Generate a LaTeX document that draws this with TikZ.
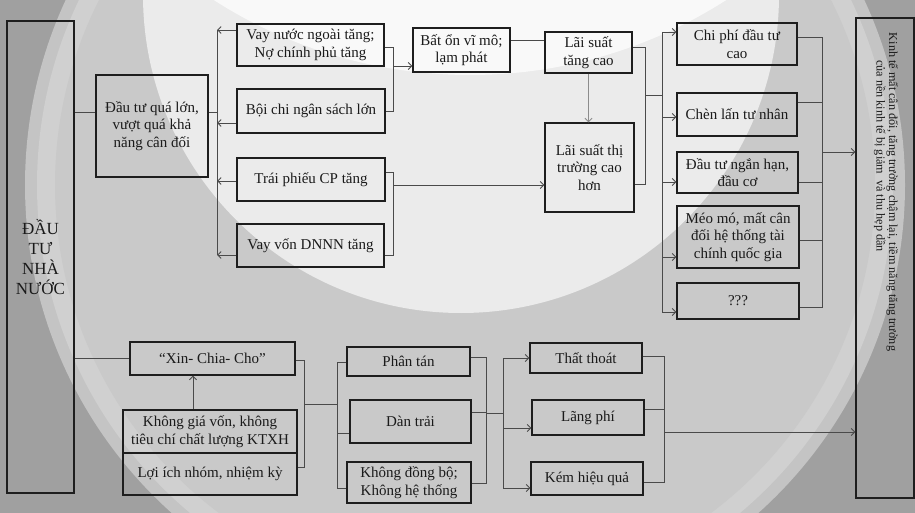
\documentclass[tikz,border=0pt]{standalone}
\usepackage{fontspec}
\setmainfont{Liberation Serif}
\usetikzlibrary{arrows.meta}
\definecolor{bgout}{HTML}{A0A0A0}
\definecolor{bgA}{HTML}{C4C4C4}
\definecolor{bgB}{HTML}{D0D0D0}
\definecolor{bgC}{HTML}{C9C9C9}
\definecolor{bgD}{HTML}{EBEBEB}
\definecolor{bgE}{HTML}{F9F9F9}
\definecolor{boxc}{HTML}{1E1E1E}
\definecolor{lnc}{HTML}{4A4A4A}
\definecolor{txt}{HTML}{1A1A1A}
\definecolor{lightarr}{HTML}{8C8C8C}
\begin{document}
\begin{tikzpicture}[x=1pt,y=-1pt,
  box/.style 2 args={draw=boxc, line width=1.4pt, inner sep=0pt, align=center,
    font=\fontsize{15}{17.5}\selectfont, text=txt, minimum width=#1pt, minimum height=#2pt},
  ln/.style={draw=lnc, line width=0.9pt},
  arr/.style={ln, -{Straight Barb[length=3.5pt,width=7pt]}},
]
\useasboundingbox (0,0) rectangle (915,513);
% background
\begin{scope}
\clip (0,0) rectangle (915,513);
\fill[bgout] (0,0) rectangle (915,513);
\fill[bgA] (465,185) circle[radius=440pt];
\fill[bgB] (465,185) circle[radius=428pt];
\fill[bgC] (465,185) circle[radius=410pt];
\fill[bgD] (461,-5) circle[radius=318pt];
\fill[bgE] (470,-400) circle[radius=475pt];
\end{scope}

% left big box
\node[box={67}{472}, font=\fontsize{17}{20}\selectfont] (L) at (40.5,257) {ĐẦU\\TƯ\\NHÀ\\NƯỚC};
% top section
\node[box={112}{102}] (A) at (152,126) {Đầu tư quá lớn,\\vượt quá khả\\năng cân đối};
\node[box={147}{42}] (B1) at (310.5,45) {Vay nước ngoài tăng;\\Nợ chính phủ tăng};
\node[box={148}{44}] (B2) at (311,111) {Bội chi ngân sách lớn};
\node[box={148}{43}] (B3) at (311,179.5) {Trái phiếu CP tăng};
\node[box={147}{43}] (B4) at (310.5,245.5) {Vay vốn DNNN tăng};
\node[box={97}{44}] (C) at (461.5,50) {Bất ổn vĩ mô;\\lạm phát};
\node[box={87}{41}] (D) at (588.5,52.5) {Lãi suất\\tăng cao};
\node[box={89}{89}] (E) at (589.5,167.5) {Lãi suất thị\\trường cao\\hơn};
\node[box={120}{42}] (F1) at (737,44) {Chi phí đầu tư\\cao};
\node[box={120}{43}] (F2) at (737,114.5) {Chèn lấn tư nhân};
\node[box={121}{41}] (F3) at (737.5,172.5) {Đầu tư ngắn hạn,\\đầu cơ};
\node[box={122}{62}] (F4) at (738,237) {Méo mó, mất cân\\đối hệ thống tài\\chính quốc gia};
\node[box={122}{36}] (F5) at (738,301) {???};
% right box
\node[box={58}{480}] (R) at (885,258) {};
\node[rotate=-90, align=center, font=\fontsize{12.2}{12.5}\selectfont, text=txt, inner sep=0pt] (Rt) at (886,192)
  {Kinh tế mất cân đối, tăng trưởng chậm lại, tiềm năng tăng trưởng\\của nền kinh tế bị giảm\ \ và thu hẹp dần\hspace*{72pt}};
% bottom section
\node[box={165}{33}] (X) at (212.5,358.5) {“Xin- Chia- Cho”};
\node[box={174}{43}] (Y1) at (210,431.5) {Không giá vốn, không\\tiêu chí chất lượng KTXH};
\node[box={174}{42}] (Y2) at (210,474) {Lợi ích nhóm, nhiệm kỳ};
\node[box={123}{29}] (P1) at (408.5,361.5) {Phân tán};
\node[box={121}{43}] (P2) at (410.5,421.5) {Dàn trải};
\node[box={124}{41}] (P3) at (409,482.5) {Không đồng bộ;\\Không hệ thống};
\node[box={112}{30}] (Q1) at (586,358) {Thất thoát};
\node[box={112}{35}] (Q2) at (588,417.5) {Lãng phí};
\node[box={112}{33}] (Q3) at (587,478.5) {Kém hiệu quả};

% junction coordinates
\coordinate (busB) at (217,112);
\coordinate (brB) at (393,66);
\coordinate (brT) at (393,185);
\coordinate (brD) at (645,95);
\coordinate (busF) at (662,95);
\coordinate (brF) at (822,152);
\coordinate (brX) at (304,404);
\coordinate (busP) at (337,404);
\coordinate (brP) at (486,413);
\coordinate (busQ) at (503,413);
\coordinate (brQ) at (664,432);

% top connectors
\draw[ln] (L.east |- 0,112) -- (A.west |- 0,112);
\draw[ln] (A.east |- busB) -- (busB);
\draw[ln] (busB |- 0,30) -- (busB |- 0,255);
\draw[arr] (B1.west |- 0,30) -- (busB |- 0,30);
\draw[arr] (B2.west |- 0,123) -- (busB |- 0,123);
\draw[arr] (B3.west |- 0,181) -- (busB |- 0,181);
\draw[arr] (B4.west |- 0,255) -- (busB |- 0,255);
\draw[ln] (B1.east |- 0,47) -| (brB |- 0,111) -- (B2.east |- 0,111);
\draw[arr] (brB) -- (C.west |- brB);
\draw[ln] (B3.east |- 0,172) -| (brT |- 0,255) -- (B4.east |- 0,255);
\draw[arr] (brT) -- (E.west |- brT);
\draw[ln] (C.east |- 0,40) -- (D.west |- 0,40);
\draw[draw=lightarr, line width=0.9pt, -{Straight Barb[length=3.5pt,width=7pt]}] (D.south) -- (D.south |- E.north);
\draw[ln] (D.east |- 0,47) -| (brD |- 0,184) -- (E.east |- 0,184);
\draw[ln] (brD) -- (busF);
\draw[ln] (busF |- 0,32) -- (busF |- 0,312);
\draw[arr] (busF |- 0,32) -- (F1.west |- 0,32);
\draw[arr] (busF |- 0,117) -- (F2.west |- 0,117);
\draw[arr] (busF |- 0,182) -- (F3.west |- 0,182);
\draw[arr] (busF |- 0,257) -- (F4.west |- 0,257);
\draw[arr] (busF |- 0,312) -- (F5.west |- 0,312);
\draw[ln] (F1.east |- 0,37) -| (brF |- 0,307) -- (F5.east |- 0,307);
\draw[ln] (F2.east |- 0,102) -- (brF |- 0,102);
\draw[ln] (F3.east |- 0,182) -- (brF |- 0,182);
\draw[ln] (F4.east |- 0,240) -- (brF |- 0,240);
\draw[arr] (brF) -- (R.west |- brF);

% bottom connectors
\draw[ln] (L.east |- 0,358) -- (X.west |- 0,358);
\draw[arr] (Y1.north -| 193,0) -- (X.south -| 193,0);
\draw[ln] (X.east |- 0,360) -| (brX |- 0,467) -- (Y2.east |- 0,467);
\draw[ln] (brX) -- (busP);
\draw[ln] (P1.west |- 0,362) -| (busP |- 0,488) -- (P3.west |- 0,488);
\draw[ln] (busP |- 0,433) -- (P2.west |- 0,433);
\draw[ln] (P1.east |- 0,357) -| (brP |- 0,483) -- (P3.east |- 0,483);
\draw[ln] (P2.east |- 0,412) -- (brP |- 0,412);
\draw[ln] (brP) -- (busQ);
\draw[ln] (busQ |- 0,358) -- (busQ |- 0,488);
\draw[arr] (busQ |- 0,358) -- (Q1.west |- 0,358);
\draw[arr] (busQ |- 0,428) -- (Q2.west |- 0,428);
\draw[arr] (busQ |- 0,488) -- (Q3.west |- 0,488);
\draw[ln] (Q1.east |- 0,356) -| (brQ |- 0,482) -- (Q3.east |- 0,482);
\draw[ln] (Q2.east |- 0,409) -- (brQ |- 0,409);
\draw[arr] (brQ) -- (R.west |- brQ);
\end{tikzpicture}
\end{document}
